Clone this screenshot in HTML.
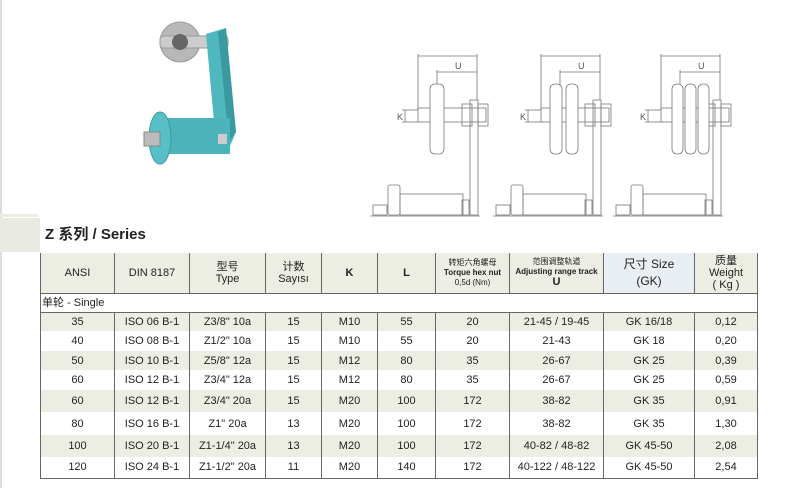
<!DOCTYPE html>
<html><head><meta charset="utf-8"><style>
body{margin:0;width:795px;height:488px;background:#fff;position:relative;overflow:hidden;font-family:"Liberation Sans","Noto Sans CJK SC",sans-serif;color:#222}
.a{position:absolute}
table{position:absolute;left:40px;top:253px;border-collapse:collapse;table-layout:fixed;font-size:11px}
td{border-left:1.5px solid #666;border-right:1.5px solid #666;text-align:center;padding:0;line-height:12px}
tr.s td{background:#eceee4}
tr.h td{background:#eceee4;border-bottom:1.5px solid #666}
tr.sg td{border-bottom:1.5px solid #666;text-align:left;padding-left:1px}
tr.last td{border-bottom:1.5px solid #666}
.sm{font-size:8px;line-height:10px}
</style></head><body>
<div class="a" style="left:0;top:0;width:2px;height:488px;background:#ddd"></div>
<div class="a" style="left:0;top:214px;width:38px;height:3px;background:#eceee4"></div>
<div class="a" style="left:0;top:218px;width:40px;height:34px;background:#e9ebe3"></div>
<div class="a" style="left:45px;top:223px;font-size:15px;font-weight:bold;color:#222">Z 系列 / Series</div>

<svg class="a" style="left:0;top:0" width="795" height="250">
<!-- product -->
<g>
<circle cx="180" cy="42" r="20" fill="#b8b8b8" stroke="#999"/>
<rect x="160" y="36" width="68" height="12" rx="3" fill="#ccc" stroke="#999"/>
<circle cx="180" cy="42" r="8" fill="#666"/>
<polygon points="206,34 226,28 236,132 230,146 216,144" fill="#4fb8bf"/>
<polygon points="218,32 226,28 236,132 229,142" fill="#3a9aa0"/>
<rect x="162" y="118" width="68" height="36" fill="#4cb3ba"/>
<ellipse cx="160" cy="138" rx="11" ry="26" fill="#56c0c6" stroke="#3a9aa0"/>
<rect x="144" y="132" width="16" height="14" fill="#bbb" stroke="#888"/>
<rect x="218" y="134" width="9" height="10" fill="#ccc"/>
</g>
<g fill="none" stroke="#777" stroke-width="0.8">
<g id="d1">
<line x1="418" y1="56" x2="477" y2="56"/><line x1="437" y1="72" x2="477" y2="72"/>
<line x1="418" y1="54" x2="418" y2="110"/><line x1="477" y1="54" x2="477" y2="100"/><line x1="437" y1="70" x2="437" y2="85"/>
<rect x="470" y="100" width="8" height="115"/>
<rect x="418" y="108" width="68" height="14"/>
<rect x="462" y="104" width="10" height="22"/><rect x="478" y="104" width="10" height="22"/>
<line x1="405" y1="110" x2="405" y2="122"/><line x1="402" y1="110" x2="418" y2="110"/><line x1="402" y1="122" x2="418" y2="122"/>
<rect x="388" y="185" width="12" height="30" rx="2"/><rect x="400" y="194" width="63" height="21"/><rect x="462" y="200" width="7" height="15"/>
<rect x="373" y="205" width="14" height="10"/>
<line x1="370" y1="216" x2="480" y2="216"/>
</g>
<use href="#d1" x="123"/>
<use href="#d1" x="243"/>
<rect x="430" y="84" width="14" height="70" rx="5" fill="#fff"/>
<rect x="550" y="84" width="12" height="70" rx="5" fill="#fff"/><rect x="566" y="84" width="12" height="70" rx="5" fill="#fff"/>
<rect x="672" y="84" width="11" height="70" rx="5" fill="#fff"/><rect x="685" y="84" width="11" height="70" rx="5" fill="#fff"/><rect x="698" y="84" width="11" height="70" rx="5" fill="#fff"/>
</g>
<g font-size="9" fill="#555">
<text x="455" y="69">U</text><text x="578" y="69">U</text><text x="698" y="69">U</text>
<text x="397" y="120">K</text><text x="520" y="120">K</text><text x="640" y="120">K</text>
</g>
</svg>

<table>
<colgroup><col style="width:74px"><col style="width:75px"><col style="width:76px"><col style="width:56px"><col style="width:56px"><col style="width:58px"><col style="width:74px"><col style="width:94px"><col style="width:91px"><col style="width:63px"></colgroup>
<tr class="h" style="height:40px"><td>ANSI</td><td>DIN 8187</td><td>型号<br>Type</td><td>计数<br>Sayısı</td><td><b>K</b></td><td><b>L</b></td><td class="sm">转矩六角螺母<br><b>Torque hex nut</b><br>0,5d (Nm)</td><td class="sm">范围调整轨道<br><b>Adjusting range track</b><br><b style="font-size:11px">U</b></td><td style="background:#e8eef2;font-size:12px;line-height:17px">尺寸 Size<br>(GK)</td><td style="font-size:11px">质量<br>Weight<br>( Kg )</td></tr>
<tr class="sg" style="height:19px"><td colspan="10" style="border-left:1.5px solid #666">单轮 - Single</td></tr>
<tr class="s" style="height:19px"><td>35</td><td>ISO 06 B-1</td><td>Z3/8" 10a</td><td>15</td><td>M10</td><td>55</td><td>20</td><td>21-45 / 19-45</td><td>GK 16/18</td><td>0,12</td></tr>
<tr style="height:20px"><td>40</td><td>ISO 08 B-1</td><td>Z1/2" 10a</td><td>15</td><td>M10</td><td>55</td><td>20</td><td>21-43</td><td>GK 18</td><td>0,20</td></tr>
<tr class="s" style="height:19px"><td>50</td><td>ISO 10 B-1</td><td>Z5/8" 12a</td><td>15</td><td>M12</td><td>80</td><td>35</td><td>26-67</td><td>GK 25</td><td>0,39</td></tr>
<tr style="height:20px"><td>60</td><td>ISO 12 B-1</td><td>Z3/4" 12a</td><td>15</td><td>M12</td><td>80</td><td>35</td><td>26-67</td><td>GK 25</td><td>0,59</td></tr>
<tr class="s" style="height:22px"><td>60</td><td>ISO 12 B-1</td><td>Z3/4" 20a</td><td>15</td><td>M20</td><td>100</td><td>172</td><td>38-82</td><td>GK 35</td><td>0,91</td></tr>
<tr style="height:23px"><td>80</td><td>ISO 16 B-1</td><td>Z1" 20a</td><td>13</td><td>M20</td><td>100</td><td>172</td><td>38-82</td><td>GK 35</td><td>1,30</td></tr>
<tr class="s" style="height:22px"><td>100</td><td>ISO 20 B-1</td><td>Z1-1/4" 20a</td><td>13</td><td>M20</td><td>100</td><td>172</td><td>40-82 / 48-82</td><td>GK 45-50</td><td>2,08</td></tr>
<tr class="last" style="height:21px"><td>120</td><td>ISO 24 B-1</td><td>Z1-1/2" 20a</td><td>11</td><td>M20</td><td>140</td><td>172</td><td>40-122 / 48-122</td><td>GK 45-50</td><td>2,54</td></tr>
</table>
</body></html>
